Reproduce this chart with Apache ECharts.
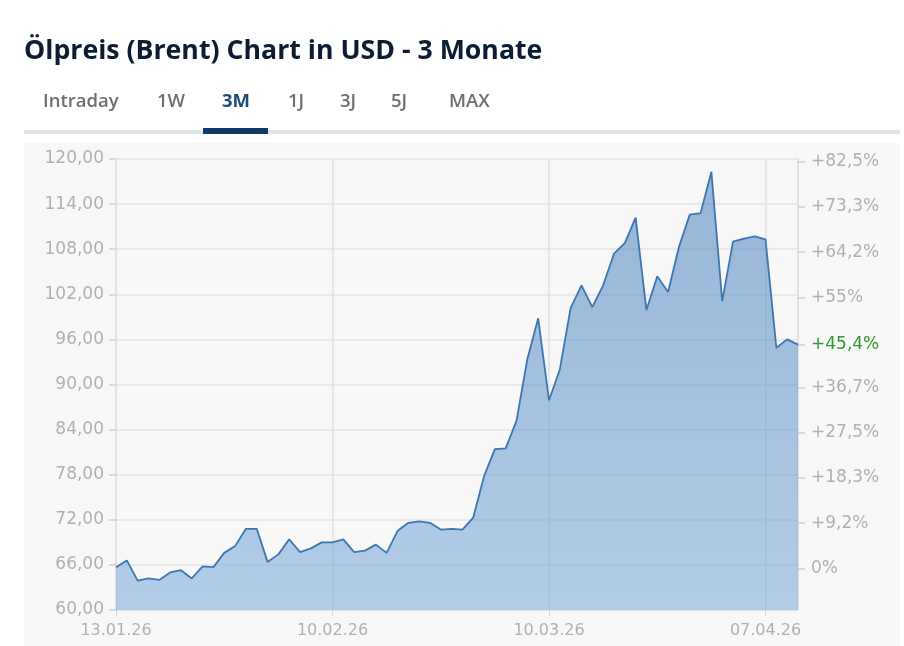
<!DOCTYPE html>
<html>
<head>
<meta charset="utf-8">
<script src="https://cdn.jsdelivr.net/npm/echarts@6/dist/echarts.min.js"></script>
<style>
html,body{margin:0;padding:0;background:#fff;}
#chart{width:904px;height:646px;}
</style>
</head>
<body>
<div id="chart"></div>
<script>
// ---- data ----
const dates = [
  "13.01.26","14.01.26","15.01.26","16.01.26","19.01.26","20.01.26","21.01.26","22.01.26","23.01.26",
  "26.01.26","27.01.26","28.01.26","29.01.26","30.01.26",
  "02.02.26","03.02.26","04.02.26","05.02.26","06.02.26","09.02.26","10.02.26","11.02.26","12.02.26","13.02.26",
  "16.02.26","17.02.26","18.02.26","19.02.26","20.02.26","23.02.26","24.02.26","25.02.26","26.02.26","27.02.26",
  "02.03.26","03.03.26","04.03.26","05.03.26","06.03.26","09.03.26","10.03.26","11.03.26","12.03.26","13.03.26",
  "16.03.26","17.03.26","18.03.26","19.03.26","20.03.26","23.03.26","24.03.26","25.03.26","26.03.26","27.03.26",
  "30.03.26","31.03.26",
  "01.04.26","02.04.26","03.04.26","06.04.26","07.04.26","08.04.26","09.04.26","10.04.26"
];
const prices = [
  65.7, 66.6, 63.9, 64.2, 64.0, 65.0, 65.3, 64.2, 65.8,
  65.7, 67.6, 68.5, 70.8, 70.8,
  66.4, 67.4, 69.4, 67.7, 68.2, 69.0, 69.0, 69.4, 67.7, 67.9,
  68.7, 67.6, 70.5, 71.6, 71.8, 71.6, 70.7, 70.8, 70.7, 72.3,
  77.8, 81.4, 81.5, 85.2, 93.4, 98.8, 87.9, 92.0, 100.2, 103.2,
  100.3, 103.2, 107.4, 108.8, 112.2, 99.9, 104.4, 102.3, 108.3, 112.6,
  112.8, 118.3,
  101.1, 109.0, 109.4, 109.7, 109.3, 94.9, 96.0, 95.3
];
const xLabelDates = ["13.01.26","10.02.26","10.03.26","07.04.26"];
const leftTicks = [60, 66, 72, 78, 84, 90, 96, 102, 108, 114, 120];
const basePrice = 65.55;
const rightPct = [0, 9.1667, 18.3333, 27.5, 36.6667, 55, 64.1667, 73.3333, 82.5];
const rightLabels = ["0%","+9,2%","+18,3%","+27,5%","+36,7%","+55%","+64,2%","+73,3%","+82,5%"];
const currentLabel = "+45,4%";
const titleText = "Ölpreis (Brent) Chart in USD - 3 Monate";
const tabs = ["Intraday","1W","3M","1J","3J","5J","MAX"];
const activeTab = "3M";

// ---- layout ----
const tabX = [43, 157, 222, 288, 340, 391, 449];
const lastPrice = prices[prices.length - 1];
const rightValues = rightPct.map(p => basePrice * (1 + p / 100));
rightValues.push(lastPrice);
const rightTexts = rightLabels.concat([currentLabel]);

function rightText(v) {
  let best = 0, bd = Infinity;
  rightValues.forEach((rv, i) => { const d = Math.abs(rv - v); if (d < bd) { bd = d; best = i; } });
  return rightTexts[best];
}

const chart = echarts.init(document.getElementById('chart'), null, {renderer: 'canvas'});

const graphics = [
  {type: 'rect', z: -100, shape: {x: 24, y: 143, width: 876, height: 503}, style: {fill: '#f8f8f8'}},
  {type: 'text', x: 24, y: 51, style: {text: titleText, font: 'bold 26.7px "Open Sans"', fill: '#0c1d33', verticalAlign: 'middle'}},
  {type: 'rect', shape: {x: 24, y: 130, width: 876, height: 4}, style: {fill: '#dfe4ea'}},
  {type: 'rect', shape: {x: 203, y: 128, width: 65, height: 6}, style: {fill: '#0f3a66'}}
];
tabs.forEach((t, i) => {
  const act = t === activeTab;
  graphics.push({type: 'text', x: tabX[i], y: 102, style: {
    text: t, font: (act ? '700 ' : '600 ') + '18.5px "Open Sans"',
    fill: act ? '#1d4a7a' : '#6e6e6e', verticalAlign: 'middle'}});
});

const axisFont = {fontFamily: 'DejaVu Sans', fontSize: 16, color: '#b0b0b0'};
const yFont = {fontFamily: 'DejaVu Sans', fontSize: 17, color: '#b0b0b0'};

chart.setOption({
  animation: false,
  backgroundColor: '#ffffff',
  graphic: graphics,
  grid: {left: 116, right: 106, top: 159, bottom: 36, containLabel: false},
  xAxis: {
    type: 'category',
    data: dates,
    boundaryGap: false,
    axisLine: {show: true, lineStyle: {color: '#e3e3e3', width: 1}},
    axisTick: {show: true, length: 6, lineStyle: {color: '#d8d8d8'},
      interval: (i, v) => xLabelDates.indexOf(v) >= 0},
    axisLabel: Object.assign({margin: 13, interval: (i, v) => xLabelDates.indexOf(v) >= 0}, axisFont),
    splitLine: {show: true, lineStyle: {color: '#e2e2e2', width: 1.5},
      interval: (i, v) => xLabelDates.indexOf(v) > 0}
  },
  yAxis: [
    {
      type: 'value', min: leftTicks[0], max: leftTicks[leftTicks.length - 1], interval: 6,
      position: 'left',
      axisLine: {show: true, lineStyle: {color: '#dcdcdc', width: 1.5}},
      axisTick: {show: true, length: 7, lineStyle: {color: '#cfcfcf', width: 1.5}},
      axisLabel: Object.assign({margin: 12, formatter: v => v.toFixed(2).replace('.', ',')}, yFont),
      splitLine: {show: true, lineStyle: {color: '#e4e4e4', width: 1.5}}
    },
    {
      type: 'value', min: leftTicks[0], max: leftTicks[leftTicks.length - 1],
      position: 'right',
      axisLine: {show: true, lineStyle: {color: '#dcdcdc', width: 1.5}},
      axisTick: {show: true, length: 7, customValues: rightValues, lineStyle: {color: '#cfcfcf', width: 1.5}},
      axisLabel: Object.assign({}, yFont, {
        margin: 13,
        customValues: rightValues,
        formatter: v => rightText(v),
        color: (v) => rightText(v) === currentLabel ? '#2e9a2e' : '#b0b0b0'
      }),
      splitLine: {show: false}
    }
  ],
  series: [{
    type: 'line',
    data: prices,
    yAxisIndex: 0,
    symbol: 'none',
    smooth: false,
    lineStyle: {color: '#3d77b2', width: 1.8},
    areaStyle: {
      opacity: 1,
      color: new echarts.graphic.LinearGradient(0, 0, 0, 1, [
        {offset: 0, color: 'rgba(70,125,185,0.55)'},
        {offset: 1, color: 'rgba(120,170,220,0.55)'}
      ])
    }
  }]
});
</script>
</body>
</html>
